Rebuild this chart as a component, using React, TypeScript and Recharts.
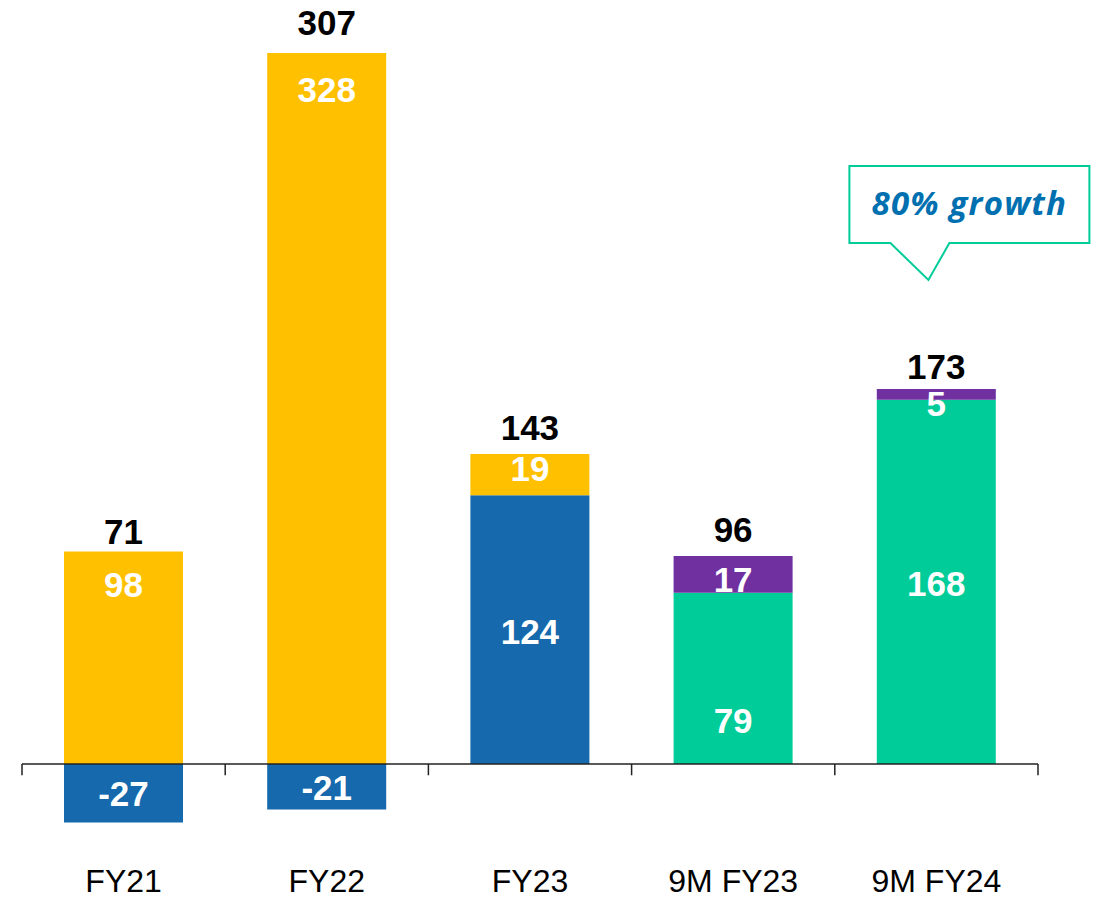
import React from 'react';
import { BarChart, Bar, XAxis, YAxis, LabelList, ReferenceLine, ReferenceDot } from 'recharts';

const categories = ['FY21', 'FY22', 'FY23', '9M FY23', '9M FY24'];
const blueValues = [-27, -21, 124, null, null];
const yellowValues = [98, 328, 19, null, null];
const greenValues = [null, null, null, 79, 168];
const purpleValues = [null, null, null, 17, 5];
const totals = [71, 307, 143, 96, 173];
const calloutText = '80% growth';

const SERIES = [
  { key: 'blue', values: blueValues, color: '#1569AC' },
  { key: 'yellow', values: yellowValues, color: '#FFC000' },
  { key: 'green', values: greenValues, color: '#00CC99' },
  { key: 'purple', values: purpleValues, color: '#7030A0' },
];

const data = categories.map((name, i) => {
  const row: any = { name };
  SERIES.forEach((s) => {
    row[s.key] = s.values[i];
  });
  return row;
});

const FONT = '"Liberation Sans", Arial, sans-serif';
const CALLOUT_FONT = '"Open Sans", "DejaVu Sans", sans-serif';

// label placement (styling): baseline offset from bar center or bar top
const LABEL_LAYOUT: Record<string, { from: 'center' | 'top'; dy: number[] }> = {
  blue: { from: 'center', dy: [12.5, 13.5, 14.5, 0, 0] },
  yellow: { from: 'top', dy: [45, 49, 27, 0, 0] },
  green: { from: 'center', dy: [0, 0, 0, 54.5, 14] },
  purple: { from: 'center', dy: [0, 0, 0, 17.5, 21.5] },
};
const TOTAL_DY = [-8, -18, -14, -14, -10];

const isTopSeries = (key: string, index: number) => {
  let top = '';
  SERIES.forEach((s) => {
    const v = s.values[index];
    if (v !== null && v !== undefined && v > 0) top = s.key;
  });
  return top === key;
};

const makeAccessor = (key: string) => (entry: any) => {
  const p = entry && entry.payload;
  if (!p) return undefined;
  const v = p[key];
  if (v === null || v === undefined) return undefined;
  return `${categories.indexOf(p.name)}|${v}`;
};

const makeLabel = (key: string) => (props: any) => {
  const { x, y, width, height, value } = props;
  if (value === null || value === undefined) return null;
  const parts = String(value).split('|');
  if (parts.length < 2) return null;
  const index = Number(parts[0]);
  const shown = parts[1];
  const top = Math.min(y, y + height);
  const bottom = Math.max(y, y + height);
  const center = (top + bottom) / 2;
  const layout = LABEL_LAYOUT[key];
  const baseY = layout.from === 'top' ? top : center;
  const cx = x + width / 2;
  return (
    <g>
      <text
        x={cx}
        y={baseY + layout.dy[index]}
        textAnchor="middle"
        fill="#FFFFFF"
        fontSize={35}
        fontWeight="bold"
        fontFamily={FONT}
      >
        {shown}
      </text>
      {isTopSeries(key, index) ? (
        <text
          x={cx}
          y={top + TOTAL_DY[index]}
          textAnchor="middle"
          fill="#000000"
          fontSize={35}
          fontWeight="bold"
          fontFamily={FONT}
        >
          {totals[index]}
        </text>
      ) : null}
    </g>
  );
};

const Callout = (props: any) => {
  const { cx, cy } = props;
  if (cx === undefined || cy === undefined) return null;
  const left = cx - 87;
  const right = cx + 153;
  const boxTop = cy - 223;
  const boxBottom = cy - 146;
  const tipX = cx - 8;
  const tipY = cy - 109;
  const d = `M ${left} ${boxTop} L ${right} ${boxTop} L ${right} ${boxBottom} L ${cx + 13} ${boxBottom} L ${tipX} ${tipY} L ${cx - 46} ${boxBottom} L ${left} ${boxBottom} Z`;
  return (
    <g>
      <path d={d} fill="#FFFFFF" stroke="#00CC99" strokeWidth={2} />
      <text
        x={cx + 33}
        y={cy - 174}
        textAnchor="middle"
        fill="#0070B0"
        fontSize={33}
        letterSpacing={1.2}
        fontWeight="bold"
        fontStyle="italic"
        fontFamily={CALLOUT_FONT}
      >
        {calloutText}
      </text>
    </g>
  );
};

export default function App() {
  return (
    <div style={{ position: 'absolute', left: 0, top: 0, width: 1103, height: 898, background: '#FFFFFF' }}>
      <BarChart
        width={1103}
        height={898}
        data={data}
        stackOffset="sign"
        margin={{ top: 27, right: 65, bottom: 17.3, left: 22 }}
        barSize={119}
      >
        <XAxis
          xAxisId="cat"
          dataKey="name"
          height={30}
          axisLine={false}
          tickLine={false}
          tickSize={0}
          tickMargin={19}
          interval={0}
          tick={{ fontSize: 32, fill: '#000000', fontFamily: FONT }}
        />
        <YAxis type="number" domain={[-40, 340]} hide allowDataOverflow />
        {SERIES.map((s) => (
          <Bar
            key={s.key}
            xAxisId="cat"
            dataKey={s.key}
            stackId="a"
            fill={s.color}
            isAnimationActive={false}
          >
            <LabelList valueAccessor={makeAccessor(s.key)} content={makeLabel(s.key)} />
          </Bar>
        ))}
        <ReferenceLine xAxisId="cat" y={0} stroke="#222222" strokeWidth={1.5} ifOverflow="visible" />
        {categories.map((c) => (
          <ReferenceLine
            key={c}
            xAxisId="cat"
            position="start"
            segment={[{ x: c, y: 0 }, { x: c, y: -5.2 }]}
            stroke="#222222"
            strokeWidth={1.5}
            ifOverflow="visible"
          />
        ))}
        <ReferenceLine
          xAxisId="cat"
          position="end"
          segment={[
            { x: categories[categories.length - 1], y: 0 },
            { x: categories[categories.length - 1], y: -5.2 },
          ]}
          stroke="#222222"
          strokeWidth={1.5}
          ifOverflow="visible"
        />
        <ReferenceDot
          xAxisId="cat"
          x={categories[4]}
          y={totals[4]}
          r={0}
          ifOverflow="visible"
          shape={Callout}
        />
      </BarChart>
    </div>
  );
}
